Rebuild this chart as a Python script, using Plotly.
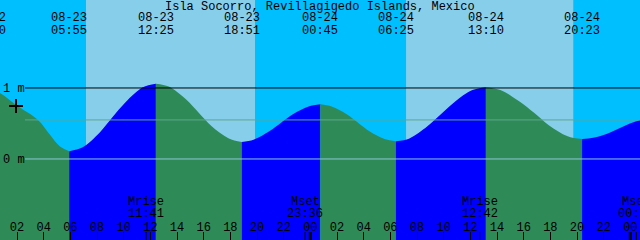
import plotly.graph_objects as go

# ---------------- data (hours since 08-23 00:00, heights in metres) ----------------
extreme_hours = [-0.17, 5.917, 12.417, 18.85, 24.75, 30.417, 37.167, 44.383, 50.05]
extreme_heights = [0.99, 0.11, 1.06, 0.24, 0.77, 0.25, 1.01, 0.28, 0.59]
extreme_dates = ["08-22", "08-23", "08-23", "08-23", "08-24", "08-24", "08-24", "08-24", "08-25"]
extreme_times = ["23:50", "05:55", "12:25", "18:51", "00:45", "06:25", "13:10", "20:23", "02:03"]

curve_hours = [-0.17, 0.725, 1.925, 3.575, 4.475, 5.225, 5.917,
               6.89, 8.19, 9.17, 10.14, 11.44, 12.417,
               13.38, 14.67, 15.63, 16.60, 17.89, 18.85,
               19.74, 20.92, 21.80, 22.69, 23.87, 24.75,
               25.60, 26.73, 27.58, 28.43, 29.57, 30.417,
               31.43, 32.78, 33.79, 34.80, 36.16, 37.167,
               38.25, 39.69, 40.78, 41.86, 43.30, 44.383,
               45.21, 46.31, 47.14, 47.97, 49.07, 50.05]
curve_heights = [0.99, 0.93, 0.76, 0.55, 0.34, 0.175, 0.11,
                 0.16, 0.37, 0.59, 0.80, 1.01, 1.06,
                 1.02, 0.84, 0.65, 0.46, 0.29, 0.24,
                 0.27, 0.39, 0.51, 0.63, 0.74, 0.77,
                 0.74, 0.63, 0.51, 0.39, 0.28, 0.25,
                 0.29, 0.46, 0.63, 0.80, 0.97, 1.01,
                 0.97, 0.81, 0.65, 0.48, 0.32, 0.28,
                 0.30, 0.36, 0.43, 0.50, 0.56, 0.59]

sunrise_hours = [7.175, 31.18]
sunset_hours = [19.85, 43.72]

moon_hours = [11.683, 23.6, 36.7, 48.45]
moon_events = ["Mrise", "Mset", "Mrise", "Mset"]
moon_times = ["11:41", "23:36", "12:42", "00:27"]

tick_hours = list(range(2, 49, 2))
tick_labels = ["%02d" % (h % 24) for h in tick_hours]
midnight_hours = [24, 48]

level_values = [1.0, 0.55, 0.0]
level_colors = ["#000000", "#5FA58F", "#8CC6D6"]

marker_hour = [1.925]
marker_height = [0.745]

title_text = "Isla Socorro, Revillagigedo Islands, Mexico"

# ---------------- styling ----------------
W, H = 640, 240
X0, X1 = 0.725, 48.725
Y0, Y1 = -1.141, 2.239
NIGHT = "#00BFFF"
DAY = "#87CEEB"
FLOOD = "#0000FF"
EBB = "#2E8B57"
FONT = dict(family="Liberation Mono, DejaVu Sans Mono, monospace", size=12, color="black")


def hour_to_paper(t):
    return (t - X0) / (X1 - X0)


fig = go.Figure()

# tide fill, one coloured piece per rise/fall
for i in range(len(extreme_hours) - 1):
    a, b = extreme_hours[i], extreme_hours[i + 1]
    pts = [(t, h) for t, h in zip(curve_hours, curve_heights) if a <= t <= b]
    color = FLOOD if extreme_heights[i + 1] > extreme_heights[i] else EBB
    fig.add_trace(go.Scatter(x=[a, b], y=[Y0 - 0.2, Y0 - 0.2], mode="lines",
                             line=dict(width=0, color=color), hoverinfo="skip",
                             showlegend=False))
    fig.add_trace(go.Scatter(x=[p[0] for p in pts], y=[p[1] for p in pts], mode="lines",
                             line=dict(width=0, color=color, shape="spline"),
                             fill="tonexty", fillcolor=color, hoverinfo="skip",
                             showlegend=False))

fig.add_trace(go.Scatter(x=marker_hour, y=marker_height, mode="markers",
                         marker=dict(symbol="cross-thin", size=10,
                                     line=dict(width=2, color="black")),
                         hoverinfo="skip", showlegend=False, cliponaxis=False))

shapes = []
for r, s in zip(sunrise_hours, sunset_hours):
    shapes.append(dict(type="rect", xref="x", yref="paper", x0=r, x1=s, y0=0, y1=1,
                       fillcolor=DAY, line=dict(width=0), layer="below"))
for v, c in zip(level_values, level_colors):
    shapes.append(dict(type="line", xref="paper", yref="y", x0=25 / W, x1=1, y0=v, y1=v,
                       line=dict(color=c, width=1), layer="above"))
for m in midnight_hours:
    shapes.append(dict(type="line", xref="x", yref="paper", x0=m, x1=m, y0=0, y1=8 / H,
                       line=dict(color="black", width=3), layer="above"))
for m in moon_hours:
    shapes.append(dict(type="line", xref="x", yref="paper", x0=m, x1=m, y0=0, y1=8 / H,
                       line=dict(color="black", width=1), layer="above"))

ann = [dict(text=title_text, xref="paper", yref="paper", x=320 / W, y=1 - 7 / H,
            showarrow=False, font=FONT, xanchor="center", yanchor="middle")]
for t, d, tm in zip(extreme_hours, extreme_dates, extreme_times):
    ann.append(dict(text=d, xref="paper", yref="paper", x=hour_to_paper(t), y=1 - 18 / H,
                    showarrow=False, font=FONT, xanchor="center", yanchor="middle"))
    ann.append(dict(text=tm, xref="paper", yref="paper", x=hour_to_paper(t), y=1 - 31 / H,
                    showarrow=False, font=FONT, xanchor="center", yanchor="middle"))
for t, e, tm in zip(moon_hours, moon_events, moon_times):
    ann.append(dict(text=e, xref="paper", yref="paper", x=hour_to_paper(t), y=1 - 202 / H,
                    showarrow=False, font=FONT, xanchor="center", yanchor="middle"))
    ann.append(dict(text=tm, xref="paper", yref="paper", x=hour_to_paper(t), y=1 - 214 / H,
                    showarrow=False, font=FONT, xanchor="center", yanchor="middle"))

fig.update_layout(
    width=W, height=H, margin=dict(l=0, r=0, t=0, b=0),
    paper_bgcolor=NIGHT, plot_bgcolor=NIGHT,
    shapes=shapes, annotations=ann, showlegend=False,
    xaxis=dict(range=[X0, X1], tickvals=tick_hours, ticktext=tick_labels,
               ticks="inside", ticklen=8, tickwidth=1, tickcolor="black",
               ticklabelposition="inside", ticklabeloverflow="allow",
               ticklabelstandoff=-2, tickfont=FONT, showgrid=False,
               zeroline=False, showline=False, fixedrange=True),
    yaxis=dict(range=[Y0, Y1], tickvals=[0, 1], ticktext=["0 m", "1 m"],
               ticks="", ticklabelposition="inside", ticklabeloverflow="allow",
               tickfont=FONT, showgrid=False, zeroline=False, showline=False,
               fixedrange=True),
)

fig.write_html("out.html")
